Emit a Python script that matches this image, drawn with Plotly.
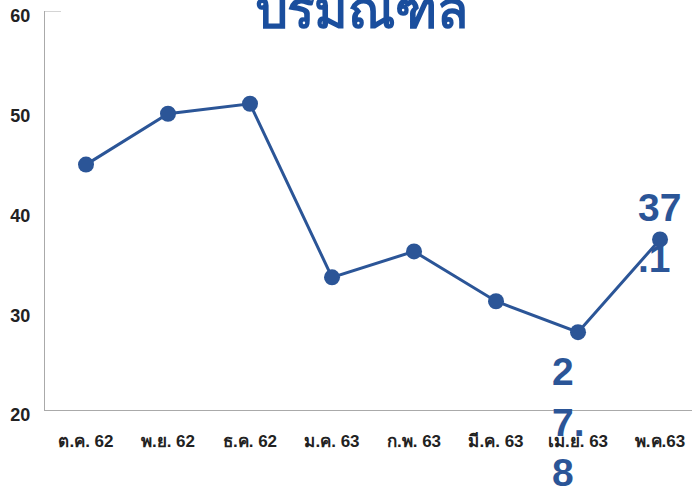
import plotly.graph_objects as go

months = ["ต.ค. 62", "พ.ย. 62", "ธ.ค. 62", "ม.ค. 63", "ก.พ. 63", "มี.ค. 63", "เม.ย. 63", "พ.ค.63"]
values = [44.6, 49.7, 50.7, 33.3, 35.9, 30.9, 27.8, 37.1]
y_ticks = [20, 30, 40, 50, 60]
title_text = "ปริมณฑล"

blue = "#2b5597"
xs = list(range(len(months)))

fig = go.Figure()
fig.add_trace(go.Scatter(
    x=xs, y=values, mode="lines+markers",
    line=dict(color=blue, width=3),
    marker=dict(color=blue, size=16),
    hoverinfo="skip", showlegend=False,
))

lab_font = dict(family="Liberation Sans, Arial, sans-serif", size=39, color=blue, weight="bold")
# label for 27.8 (wrapped)
fig.add_annotation(x=xs[6], y=values[6], text="2<br>7.<br>8", showarrow=False,
                   xanchor="left", yanchor="top", align="left", xshift=-28, yshift=-16,
                   font=lab_font)
# label for 37.1 (wrapped)
fig.add_annotation(x=xs[7], y=values[7], text="37<br>.1", showarrow=False,
                   xanchor="left", yanchor="middle", align="left", xshift=-24, yshift=6,
                   font=lab_font)

# title, top clipped by page edge
fig.add_annotation(xref="paper", yref="paper", x=0.489, y=1.0, yshift=-34,
                   text="<b>" + title_text + "</b>", showarrow=False,
                   xanchor="center", yanchor="bottom",
                   font=dict(family="Noto Sans, sans-serif", size=51, color="#1a4e9d"))

# small top tick of the y axis
fig.add_shape(type="line", xref="paper", yref="y", x0=0, x1=16 / 647, y0=60, y1=60,
              line=dict(color="#aaaaaa", width=1))

fig.update_layout(
    width=692, height=495,
    margin=dict(l=45, r=0, t=11, b=85, autoexpand=False),
    plot_bgcolor="white", paper_bgcolor="white",
    xaxis=dict(range=[-0.5, 7.39], tickvals=xs, ticktext=months, showgrid=False,
               zeroline=False, showline=True, linecolor="#aaaaaa", linewidth=1,
               ticks="", ticklabelstandoff=16, automargin=False,
               tickfont=dict(family="Liberation Sans, Arial, sans-serif", size=17, color="#222222", weight="bold")),
    yaxis=dict(range=[20, 60], tickvals=y_ticks, showgrid=False, zeroline=False,
               showline=True, linecolor="#aaaaaa", linewidth=1, ticks="",
               ticklabelstandoff=10, ticklabelshift=5, ticklabeloverflow="allow",
               automargin=False,
               tickfont=dict(family="Liberation Sans, Arial, sans-serif", size=18, color="#222222", weight="bold")),
)

fig.write_html("out.html", post_script="document.body.style.margin='0';",
               config={"displayModeBar": False})
